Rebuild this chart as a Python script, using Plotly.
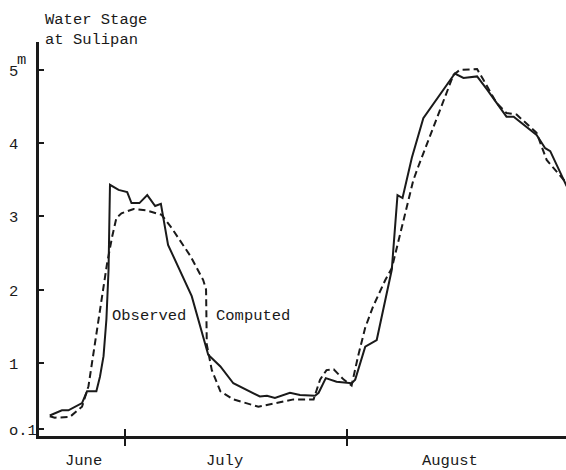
import plotly.graph_objects as go

# Day axis: continuous days counted from 1 June (30 = end of June, 61 = end of July)
obs_day = [19.5, 21.2, 22.1, 24.0, 24.7, 26.0, 26.5, 27.0, 27.4, 27.7, 27.9, 29.1,
           30.3, 30.9, 32.0, 33.1, 34.2, 35.0, 36.0, 39.3, 41.6, 43.3, 45.1, 48.8,
           49.8, 50.9, 53.0, 54.4, 56.5, 57.0, 58.0, 59.5, 61.6, 62.1, 63.5, 65.1,
           67.2, 68.0, 68.7, 70.0, 71.6, 76.0, 77.2, 79.1, 80.5, 81.8, 83.2, 84.2,
           87.4, 88.6, 89.3, 91.6]
obs_stage = [0.28, 0.35, 0.35, 0.45, 0.61, 0.61, 0.81, 1.09, 1.59, 2.27, 3.43, 3.36,
             3.33, 3.18, 3.18, 3.29, 3.14, 3.17, 2.61, 1.91, 1.11, 0.95, 0.72, 0.54,
             0.55, 0.52, 0.59, 0.56, 0.55, 0.59, 0.79, 0.74, 0.72, 0.77, 1.22, 1.31,
             2.27, 3.29, 3.25, 3.80, 4.34, 4.95, 4.89, 4.91, 4.73, 4.55, 4.36, 4.36,
             4.11, 3.93, 3.89, 3.41]

cmp_day = [19.5, 20.2, 22.3, 24.0, 24.9, 25.6, 26.3, 26.8, 27.5, 28.2, 28.8, 29.5,
           31.2, 33.0, 35.1, 36.5, 39.1, 40.9, 41.3, 41.4, 42.1, 43.3, 45.1, 48.6,
           51.2, 53.5, 56.3, 57.2, 58.1, 59.1, 60.5, 61.6, 62.5, 63.5, 64.6, 66.3,
           67.2, 68.8, 70.2, 70.9, 73.5, 75.8, 76.7, 79.1, 80.0, 81.8, 83.2, 84.6,
           87.4, 88.8, 91.6]
cmp_stage = [0.27, 0.25, 0.26, 0.40, 0.68, 1.13, 1.54, 1.86, 2.36, 2.72, 2.98, 3.04,
             3.10, 3.08, 3.02, 2.84, 2.46, 2.13, 2.00, 1.25, 0.90, 0.61, 0.50, 0.40,
             0.45, 0.50, 0.50, 0.77, 0.90, 0.91, 0.77, 0.69, 1.09, 1.48, 1.77, 2.13,
             2.29, 2.95, 3.49, 3.68, 4.34, 4.93, 5.00, 5.01, 4.86, 4.55, 4.41, 4.39,
             4.14, 3.77, 3.45]

month_bounds = [30, 61]
month_names = ["June", "July", "August"]
stage_ticks = [5, 4, 3, 2, 1, 0.1]
stage_tick_text = ["5", "4", "3", "2", "1", "o.1"]

FONT = "Liberation Mono, Courier New, monospace"
INK = "#1a1a1a"
FS = 15.5

fig = go.Figure()
fig.add_trace(go.Scatter(x=obs_day, y=obs_stage, mode="lines", name="Observed",
                         line=dict(color=INK, width=2), xaxis="x", yaxis="y"))
fig.add_trace(go.Scatter(x=cmp_day, y=cmp_stage, mode="lines", name="Computed",
                         line=dict(color=INK, width=2, dash="7px,4px"),
                         xaxis="x2", yaxis="y"))

x_range = [18.0, 91.5]
fig.update_layout(
    width=566, height=470,
    margin=dict(l=39, r=0, t=42, b=34),
    paper_bgcolor="white", plot_bgcolor="white",
    showlegend=False,
    xaxis=dict(range=x_range, showgrid=False, zeroline=False,
               showline=True, linecolor=INK, linewidth=3,
               tickvals=month_bounds, ticks="outside", ticklen=7, tickwidth=2,
               tickcolor=INK, showticklabels=False),
    xaxis2=dict(overlaying="x", matches="x", range=x_range, showgrid=False,
                zeroline=False, showline=False,
                tickvals=month_bounds, ticks="inside", ticklen=7, tickwidth=2,
                tickcolor=INK, showticklabels=False, side="bottom", anchor="y"),
    yaxis=dict(range=[0, 5.38], showgrid=False, zeroline=False,
               showline=True, linecolor=INK, linewidth=3,
               tickvals=stage_ticks, ticks="inside", ticklen=5, tickwidth=2,
               tickcolor=INK, showticklabels=False),
)

ann = []
# stage tick labels, left aligned at the page edge
for v, t in zip(stage_ticks, stage_tick_text):
    ann.append(dict(x=0, xref="paper", xshift=-32, xanchor="left",
                    y=v, yref="y", yshift=-2, yanchor="middle",
                    text=t, showarrow=False))
# unit label above the top tick
ann.append(dict(x=0, xref="paper", xshift=-24, xanchor="left",
                y=5, yref="y", yshift=10, yanchor="middle",
                text="m", showarrow=False))
# month labels under the axis
for xm, name in zip([24.2, 43.9, 75.3], month_names):
    ann.append(dict(x=xm, xref="x", xanchor="center",
                    y=0, yref="paper", yshift=-25, yanchor="middle",
                    text=name, showarrow=False))
# title
ann.append(dict(x=0, xref="paper", xshift=4, xanchor="left",
                y=1, yref="paper", yshift=33, yanchor="top",
                text="Water Stage<br>at Sulipan", showarrow=False, align="left"))
# curve labels
ann.append(dict(x=33.4, xref="x", y=1.64, yref="y", text="Observed",
                showarrow=False, xanchor="center", yanchor="middle"))
ann.append(dict(x=47.8, xref="x", y=1.64, yref="y", text="Computed",
                showarrow=False, xanchor="center", yanchor="middle"))

for a in ann:
    a["font"] = dict(family=FONT, size=FS, color=INK)
fig.update_layout(annotations=ann)

fig.write_html("out.html")
